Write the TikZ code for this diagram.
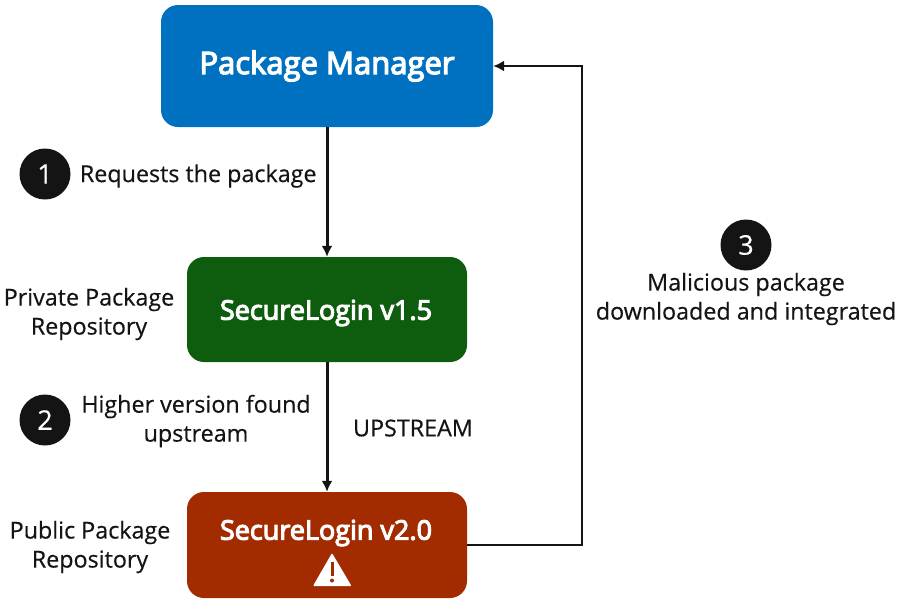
\documentclass[tikz,border=0pt]{standalone}
\usepackage{xcolor}
\usepackage{fontspec}
\usepackage{tikz}
\usetikzlibrary{positioning,arrows.meta}
\setmainfont[FakeBold=0.4]{Open Sans}
\newfontfamily\semifont[FakeBold=4]{Open Sans}
\definecolor{pmblue}{HTML}{0070C0}
\definecolor{repogreen}{HTML}{0E5C0E}
\definecolor{reported}{HTML}{A22C00}
\definecolor{inkdark}{HTML}{141414}

\begin{document}
\begin{tikzpicture}[x=1pt, y=-1pt,
	box/.style = {draw=none, text=white, font=\fontsize{27}{30}\semifont, rounded corners=17pt, align=center, inner sep=0pt},
	num/.style = {circle, fill=inkdark, text=white, minimum size=51pt, inner sep=0pt, font=\fontsize{27}{30}\selectfont},
	lbl/.style = {text=inkdark, align=center, font=\fontsize{23.3}{29}\selectfont, inner sep=0pt},
	link/.style = {draw=inkdark, line width=3pt, -{Latex[length=11pt,width=11pt]}},
	back/.style = {draw=inkdark, line width=2pt, -{Latex[length=11pt,width=11pt]}}]
	\useasboundingbox (0,0) rectangle (902,603);
	\node[box, fill=pmblue, minimum width=332pt, minimum height=122pt, font=\fontsize{31}{34}\semifont] (pm) at (327,66) {Package Manager};
	\node[box, fill=repogreen, minimum width=280pt, minimum height=105pt] (private) at (327,309.5) {};
	\node[text=white, font=\fontsize{27}{30}\semifont, inner sep=0pt] (privatename) at (326,313) {SecureLogin v1.5};
	\node[box, fill=reported, minimum width=280pt, minimum height=106pt] (public) at (327,545) {};
	\node[text=white, font=\fontsize{27}{30}\semifont, inner sep=0pt] (publicname) at (326,533) {SecureLogin v2.0};
	% warning sign
	\fill[white, rounded corners=1pt] (332,553) -- (351.5,586) -- (313,586) -- cycle;
	\fill[reported] (330.5,562) rectangle (333.5,576);
	\fill[reported] (332,580.5) circle (2pt);
	% steps
	\node[num] (one) at (45,174) {1};
	\node[lbl, right=9pt of one, yshift=-2pt] (onetext) {Requests the package};
	\node[num] (two) at (45,420) {2};
	\node[lbl] (twotext) at (196,421) {Higher version found\\upstream};
	\node[num] (three) at (746,245) {3};
	\node[lbl] (threetext) at (746,299) {Malicious package\\downloaded and integrated};
	\node[lbl] (uplabel) at (413,428) {UPSTREAM};
	\node[lbl] (privatetext) at (89,314) {Private Package\\Repository};
	\node[lbl] (publictext) at (90,547) {Public Package\\Repository};
	% arrows
	\draw[link] (pm) -- (private);
	\draw[link] (private) -- (public);
	\draw[back] (public.east) -- ++(115,0) |- (pm.east);
\end{tikzpicture}
\end{document}
